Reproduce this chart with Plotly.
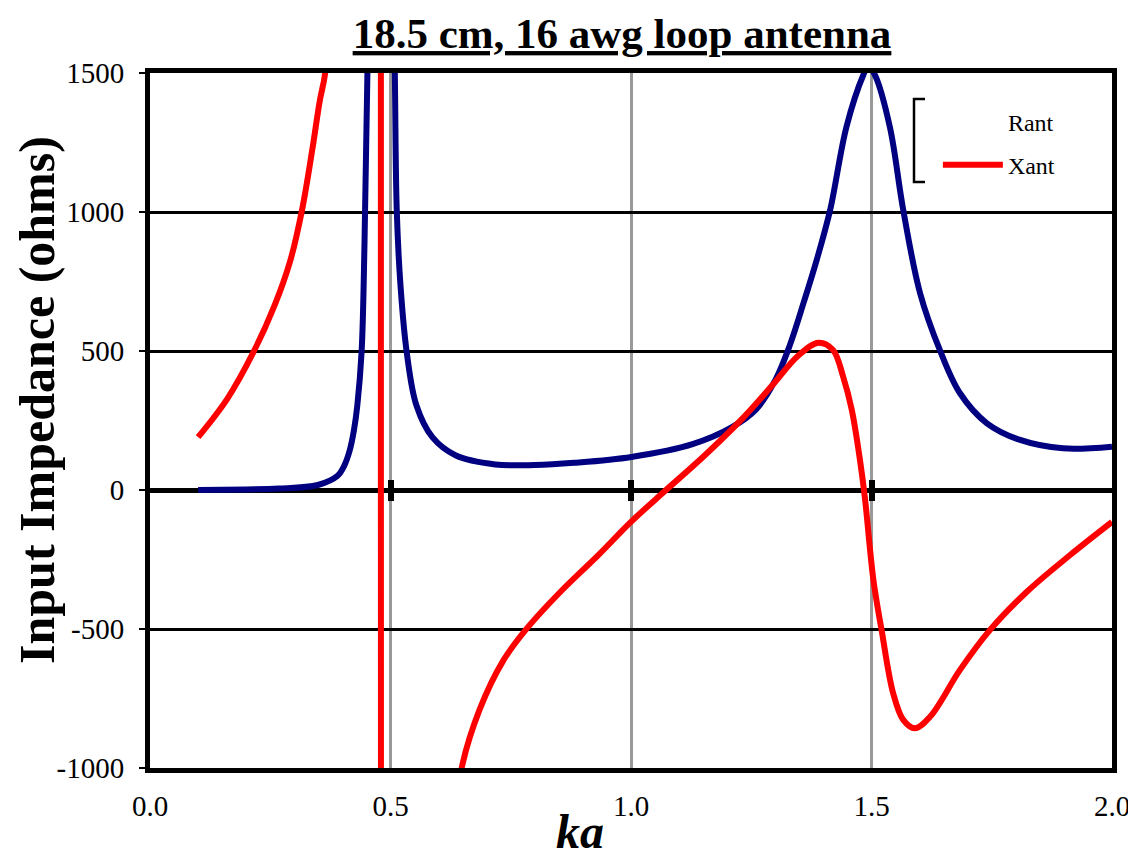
import plotly.graph_objects as go

# ---- data ----
ka_r = [0.10, 0.20, 0.267, 0.349, 0.39, 0.404, 0.415, 0.424, 0.431, 0.440, 0.446, 0.452,
        0.46, 0.47, 0.48, 0.49, 0.50, 0.509, 0.513, 0.521, 0.534, 0.554, 0.587,
        0.636, 0.718, 0.800, 0.882, 1.001, 1.128, 1.210, 1.260, 1.300, 1.330, 1.360,
        1.386, 1.414, 1.448, 1.483, 1.493, 1.507, 1.538, 1.566, 1.601, 1.642,
        1.684, 1.740, 1.809, 1.898, 2.000]
rant = [0, 2, 5, 18, 51, 88, 141, 215, 304, 500, 893, 1498,
        2600, 6000, 9000, 6000, 2600, 1498, 1007, 730, 492, 304, 190,
        124, 92, 90, 98, 119, 165, 226, 290, 395, 520, 680,
        827, 1007, 1307, 1493, 1525, 1493, 1307, 1007, 708, 504,
        348, 240, 180, 150, 156]

ka_x = [0.10, 0.161, 0.214, 0.259, 0.292, 0.316, 0.337, 0.353, 0.364, 0.38, 0.42,
        0.46, 0.480, 0.484, 0.52, 0.58, 0.62, 0.648, 0.685, 0.735, 0.784, 0.858,
        0.931, 1.001, 1.071, 1.153, 1.235, 1.292, 1.348, 1.390, 1.420, 1.441,
        1.459, 1.476, 1.486, 1.504, 1.521, 1.545, 1.566, 1.590, 1.622, 1.684,
        1.746, 1.823, 1.913, 2.000]
xant = [190, 329, 492, 664, 827, 1007, 1220, 1400, 1498, 1900, 3500,
        9000, 30000, -30000, -8000, -2500, -1400, -1000, -791, -612, -497, -358,
        -236, -113, -3, 124, 263, 373, 484, 530, 504, 408,
        288, 108, -24, -324, -504, -731, -827, -857, -815, -647,
        -504, -366, -234, -115]

x_tickvals = [0.0, 0.5, 1.0, 1.5, 2.0]
x_ticktext = ["0.0", "0.5", "1.0", "1.5", "2.0"]
y_tickvals = [-1000, -500, 0, 500, 1000, 1500]
y_ticktext = ["-1000", "-500", "0", "500", "1000", "1500"]
cross_ticks = [0.5, 1.0, 1.5]

SERIF = "Liberation Serif, Times New Roman, serif"
LW = 6

fig = go.Figure()
fig.add_trace(go.Scatter(x=ka_r, y=rant, mode="lines", name="Rant", showlegend=False,
                         line=dict(color="#000080", width=LW, shape="spline", smoothing=1.0)))
fig.add_trace(go.Scatter(x=ka_x, y=xant, mode="lines", name="Xant", showlegend=False,
                         line=dict(color="#ff0000", width=LW, shape="spline", smoothing=1.0)))
# legend entries (Rant shown without a visible line, as in the reference)
fig.add_trace(go.Scatter(x=[None], y=[None], mode="lines", name="Rant", legendgroup="a",
                         line=dict(color="rgba(0,0,0,0)", width=LW)))
fig.add_trace(go.Scatter(x=[None], y=[None], mode="lines", name="Xant", legendgroup="b",
                         line=dict(color="#ff0000", width=LW)))
# carriers for the cross ticks on the zero line
fig.add_trace(go.Scatter(x=[None], y=[None], xaxis="x2", showlegend=False, hoverinfo="skip"))
fig.add_trace(go.Scatter(x=[None], y=[None], xaxis="x3", showlegend=False, hoverinfo="skip"))

# page body has an 8px margin, so the figure is 8px smaller than the window
W, H = 1128, 852
ML, MR, MT, MB = 142, 24, 65, 92

def px_x(p):  # page pixel -> paper x
    return (p - 8 - ML) / (W - ML - MR)

def px_y(p):  # page pixel -> paper y
    return (H - MB - (p - 8)) / (H - MT - MB)

fig.update_layout(
    width=W, height=H,
    margin=dict(l=ML, r=MR, t=MT, b=MB),
    paper_bgcolor="white", plot_bgcolor="white",
    font=dict(family=SERIF, color="black"),
    title=dict(text="<b>18.5 cm, 16 awg loop antenna</b>", x=px_x(622), xref="paper",
               xanchor="center", yref="container", y=1 - 25 / H, yanchor="middle",
               font=dict(size=43, family=SERIF, color="black", lineposition="under")),
    xaxis=dict(range=[0, 2], tickvals=x_tickvals, ticktext=x_ticktext, ticks="",
               showgrid=True, gridcolor="#999999", gridwidth=3,
               showline=True, linecolor="black", linewidth=5, mirror=True,
               zeroline=False, tickfont=dict(size=29, family=SERIF),
               ticklabelstandoff=8, automargin=False),
    xaxis2=dict(range=[0, 2], overlaying="x", anchor="free", position=0.4, side="bottom",
                tickvals=cross_ticks, showticklabels=False, ticks="outside", ticklen=10,
                tickwidth=6, tickcolor="black", showgrid=False, showline=False, zeroline=False),
    xaxis3=dict(range=[0, 2], overlaying="x", anchor="free", position=0.4, side="bottom",
                tickvals=cross_ticks, showticklabels=False, ticks="inside", ticklen=10,
                tickwidth=6, tickcolor="black", showgrid=False, showline=False, zeroline=False),
    yaxis=dict(range=[-1000, 1500], tickvals=y_tickvals, ticktext=y_ticktext,
               ticks="outside", ticklen=6, tickwidth=2, tickcolor="black",
               showgrid=True, gridcolor="black", gridwidth=2.5,
               zeroline=True, zerolinecolor="black", zerolinewidth=5,
               showline=True, linecolor="black", linewidth=5, mirror=True,
               tickfont=dict(size=29, family=SERIF), ticklabelstandoff=9,
               automargin=False),
    legend=dict(x=0.819, y=0.962, xanchor="left", yanchor="top", bgcolor="rgba(0,0,0,0)",
                borderwidth=0, font=dict(size=24, family=SERIF), itemwidth=60,
                traceorder="grouped", tracegroupgap=9),
    shapes=[dict(type="path", xref="paper", yref="paper",
                 path=(f"M {px_x(925)} {px_y(99)} L {px_x(914)} {px_y(99)} "
                       f"L {px_x(914)} {px_y(182)} L {px_x(925)} {px_y(182)}"),
                 line=dict(color="black", width=2.5))],
    annotations=[
        dict(text="<b>Input Impedance (ohms)</b>", textangle=-90, xref="paper", yref="paper",
             x=px_x(37), y=px_y(400), xanchor="center", yanchor="middle", showarrow=False,
             font=dict(size=50, family=SERIF, color="black")),
        dict(text="<b><i>ka</i></b>", xref="paper", yref="paper",
             x=px_x(580), y=px_y(831), xanchor="center", yanchor="middle", showarrow=False,
             font=dict(size=48, family=SERIF, color="black")),
    ],
)

fig.write_html("out.html")
